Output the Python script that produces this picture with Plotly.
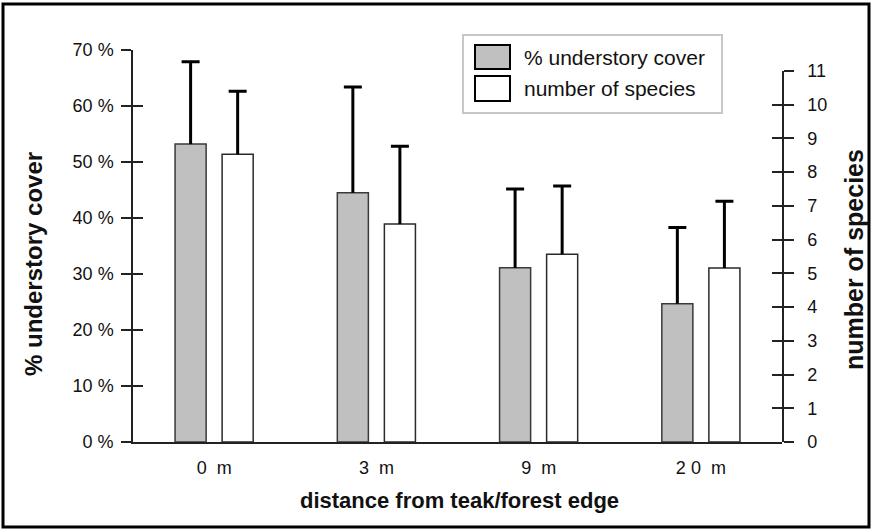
import plotly.graph_objects as go

# ---- data ----
distances = ["0\u00a0\u00a0m", "3\u00a0\u00a0m", "9\u00a0\u00a0m", "2\u00a00\u00a0\u00a0m"]
cover_pct = [53.2, 44.5, 31.1, 24.7]
cover_err = [14.7, 18.9, 14.1, 13.6]
species_n = [8.53, 6.46, 5.57, 5.16]
species_err = [1.87, 2.31, 2.02, 1.98]
left_tick_vals = [0, 10, 20, 30, 40, 50, 60, 70]
left_tick_text = ["0 %", "10 %", "20 %", "30 %", "40 %", "50 %", "60 %", "70 %"]
right_tick_vals = list(range(0, 12))
series_names = ["% understory cover", "number of species"]

FONT = "Liberation Sans, Arial, sans-serif"

W, H = 872, 529
L, R, T, B = 133, 90, 50, 87
pw, ph = W - L - R, H - T - B
CAT_PX = pw / len(distances)
WHISKER_W = 3 / CAT_PX

fig = go.Figure()
fig.add_trace(go.Bar(
    x=distances, y=cover_pct, name=series_names[0], yaxis="y", offsetgroup="a",
    marker=dict(color="#c0c0c0", line=dict(color="#3a3a3a", width=1.5)),
    showlegend=False,
))
fig.add_trace(go.Bar(
    x=distances, y=species_n, name=series_names[1], yaxis="y2", offsetgroup="b",
    marker=dict(color="white", line=dict(color="#2a2a2a", width=1.5)),
    showlegend=False,
))
# whiskers (upper error only): thin bars from value to value+err, capped by a zero-length error bar
fig.add_trace(go.Bar(
    x=distances, y=cover_err, base=cover_pct, yaxis="y3", offsetgroup="a",
    width=[WHISKER_W] * 4, marker=dict(color="black", line=dict(width=0)),
    error_y=dict(type="data", array=[0] * 4, arrayminus=[0] * 4, symmetric=False,
                 color="black", thickness=3, width=9),
    showlegend=False, hoverinfo="skip",
))
fig.add_trace(go.Bar(
    x=distances, y=species_err, base=species_n, yaxis="y4", offsetgroup="b",
    width=[WHISKER_W] * 4, marker=dict(color="black", line=dict(width=0)),
    error_y=dict(type="data", array=[0] * 4, arrayminus=[0] * 4, symmetric=False,
                 color="black", thickness=3, width=9),
    showlegend=False, hoverinfo="skip",
))


def px(x):
    return (x - L) / pw


def py(y):
    return (H - B - y) / ph


axis_common = dict(showgrid=False, zeroline=False, linecolor="#222", linewidth=1.5,
                   tickcolor="#222", tickwidth=1.5, ticklen=10)

fig.update_layout(
    width=W, height=H,
    margin=dict(l=L, r=R, t=T, b=B),
    paper_bgcolor="white", plot_bgcolor="rgba(0,0,0,0)",
    barmode="group", bargap=0.42, bargroupgap=0.34,
    font=dict(family=FONT, size=17, color="#111"),
    xaxis=dict(showline=True, linecolor="#222", linewidth=1.5, ticks="",
               showgrid=False, zeroline=False, ticklabelstandoff=9,
               tickfont=dict(size=18, color="#111")),
    yaxis=dict(range=[0, 70], tickvals=left_tick_vals, ticktext=left_tick_text,
               showline=True, ticks="outside", anchor="x", side="left",
               ticklabelstandoff=4, tickfont=dict(size=18, color="#111"), **axis_common),
    yaxis3=dict(range=[0, 70], tickvals=left_tick_vals, overlaying="y", anchor="x",
                side="left", ticks="inside", showticklabels=False, showline=False,
                showgrid=False, zeroline=False, tickcolor="#222", tickwidth=1.5, ticklen=10),
    yaxis2=dict(range=[0, 11], tickvals=right_tick_vals, domain=[0, (H - B - 71) / ph],
                anchor="x", side="right", showline=True, ticks="outside",
                ticklabelstandoff=10, tickfont=dict(size=18, color="#111"), **axis_common),
    yaxis4=dict(range=[0, 11], tickvals=right_tick_vals, overlaying="y2", anchor="x",
                side="right", ticks="inside", showticklabels=False, showline=False,
                showgrid=False, zeroline=False, tickcolor="#222", tickwidth=1.5, ticklen=10),
)

shapes = []
# outer frame
shapes.append(dict(type="rect", xref="paper", yref="paper",
                   x0=px(3), x1=px(869), y0=py(527), y1=py(4),
                   line=dict(color="black", width=3), fillcolor="rgba(0,0,0,0)", layer="above"))
# legend box
shapes.append(dict(type="rect", xref="paper", yref="paper",
                   x0=px(463), x1=px(722), y0=py(113), y1=py(35),
                   line=dict(color="#c8c8c8", width=2), fillcolor="white", layer="above"))
shapes.append(dict(type="rect", xref="paper", yref="paper",
                   x0=px(475), x1=px(510), y0=py(69), y1=py(45),
                   line=dict(color="black", width=2), fillcolor="#c0c0c0", layer="above"))
shapes.append(dict(type="rect", xref="paper", yref="paper",
                   x0=px(475), x1=px(510), y0=py(101), y1=py(76),
                   line=dict(color="black", width=2), fillcolor="white", layer="above"))
fig.update_layout(shapes=shapes)

annotations = [
    dict(text=series_names[0], x=px(522), y=py(57), xref="paper", yref="paper",
         xanchor="left", yanchor="middle", showarrow=False,
         font=dict(family=FONT, size=21, color="#111")),
    dict(text=series_names[1], x=px(522), y=py(88.5), xref="paper", yref="paper",
         xanchor="left", yanchor="middle", showarrow=False,
         font=dict(family=FONT, size=21, color="#111")),
    dict(text="<b>% understory cover</b>", x=px(33), y=py(264), xref="paper", yref="paper",
         xanchor="center", yanchor="middle", textangle=-90, showarrow=False,
         font=dict(family=FONT, size=24, color="#111")),
    dict(text="<b>number of species</b>", x=px(854), y=py(260), xref="paper", yref="paper",
         xanchor="center", yanchor="middle", textangle=-90, showarrow=False,
         font=dict(family=FONT, size=25, color="#111")),
    dict(text="<b>distance from teak/forest edge</b>", x=px(459), y=py(500), xref="paper",
         yref="paper", xanchor="center", yanchor="middle", showarrow=False,
         font=dict(family=FONT, size=22, color="#111")),
]
fig.update_layout(annotations=annotations)

fig.write_html("out.html", config={"displayModeBar": False},
               post_script="document.body.style.margin='0';")
